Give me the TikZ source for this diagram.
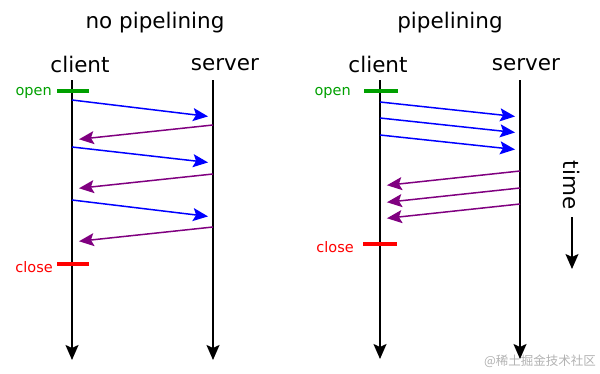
\documentclass[tikz,border=0pt]{standalone}
\usepackage{fontspec}
\setmainfont{DejaVu Sans}
\newfontfamily\cjkfont{Noto Sans CJK SC}
\usepackage{tikz}
\usetikzlibrary{arrows.meta,positioning}
\definecolor{OpenGreen}{RGB}{0,160,0}
\definecolor{ReqBlue}{RGB}{0,0,255}
\definecolor{RespPurple}{RGB}{128,0,128}
\definecolor{CloseRed}{RGB}{255,0,0}

\begin{document}
\begin{tikzpicture} [x=1pt, y=-1pt, >={Stealth[length=15pt,width=13pt,inset=3pt]},
	   every node/.style={font=\fontsize{21.5}{24}\selectfont, inner sep=0pt},
	   timeline/.style = {->, line width=1.8pt, black},
	   request/.style = {->, line width=1.5pt, draw=ReqBlue, shorten >=5pt},
	   response/.style = {->, line width=1.5pt, draw=RespPurple, shorten >=7pt},
	   connbar/.style = {line width=3.5pt},
	   connlabel/.style = {font=\fontsize{14.5}{16}\selectfont, text=#1}]
	\useasboundingbox (0,0) rectangle (600,373);

	%% Titles
	\node [anchor=base] (titleA) at (155,28) {no pipelining};
	\node [anchor=base] (titleB) at (450,28) {pipelining};

	%% Timelines, no pipelining
	\node [anchor=base] (clientA) at (80,72) {client};
	\node [anchor=base] (serverA) at (225,70) {server};
	\coordinate (clientA top) at (72,80);
	\coordinate (clientA bot) at (72,360);
	\coordinate (serverA top) at (213,80);
	\coordinate (serverA bot) at (213,360);
	\draw [timeline] (clientA top) -- (clientA bot);
	\draw [timeline] (serverA top) -- (serverA bot);

	%% Timelines, pipelining
	\node [anchor=base] (clientB) at (378,72) {client};
	\node [anchor=base] (serverB) at (526,70) {server};
	\coordinate (clientB top) at (380,80);
	\coordinate (clientB bot) at (380,359);
	\coordinate (serverB top) at (520,80);
	\coordinate (serverB bot) at (520,359);
	\draw [timeline] (clientB top) -- (clientB bot);
	\draw [timeline] (serverB top) -- (serverB bot);

	%% Open / close marks
	\coordinate (openA w) at (57,91);  \coordinate (openA e) at (89,91);
	\coordinate (closeA w) at (57,264); \coordinate (closeA e) at (89,264);
	\coordinate (openB w) at (364,91); \coordinate (openB e) at (398,91);
	\coordinate (closeB w) at (363,244); \coordinate (closeB e) at (397,244);
	\draw [connbar, OpenGreen] (openA w) -- (openA e);
	\draw [connbar, CloseRed] (closeA w) -- (closeA e);
	\draw [connbar, OpenGreen] (openB w) -- (openB e);
	\draw [connbar, CloseRed] (closeB w) -- (closeB e);
	\node [connlabel=OpenGreen, left=5pt of openA w, yshift=-2pt] (openA) {open};
	\node [connlabel=CloseRed, left=4pt of closeA w, yshift=-3pt] (closeA) {close};
	\node [connlabel=OpenGreen, left=13pt of openB w, yshift=-2pt] (openB) {open};
	\node [connlabel=CloseRed, left=9pt of closeB w, yshift=-3pt] (closeB) {close};

	%% Messages, no pipelining
	\foreach \i/\a/\b/\c/\d in {1/100/117/125/140, 2/147/163/174/189, 3/200/217/227/242} {
		\coordinate (reqA\i s) at (72,\a);   \coordinate (reqA\i e) at (213,\b);
		\coordinate (resA\i s) at (213,\c);  \coordinate (resA\i e) at (72,\d);
		\draw [request] (reqA\i s) -- (reqA\i e);
		\draw [response] (resA\i s) -- (resA\i e);
	}

	%% Messages, pipelining
	\foreach \i/\a/\b/\c/\d in {1/102/117/171/186, 2/118/133/188/203, 3/135/150/204/219} {
		\coordinate (reqB\i s) at (380,\a);  \coordinate (reqB\i e) at (520,\b);
		\coordinate (resB\i s) at (520,\c);  \coordinate (resB\i e) at (380,\d);
		\draw [request] (reqB\i s) -- (reqB\i e);
		\draw [response] (resB\i s) -- (resB\i e);
	}

	%% Time axis
	\node [rotate=-90] (time) at (572,185) {time};
	\coordinate (time end) at (572,269);
	\draw [->, line width=1.5pt] (time.east) ++(0,8) coordinate (time start) -- (time end);

	%% Watermark
	\node [font=\cjkfont\fontsize{12.5}{14}\selectfont, text=black!30] (wm) at (540,361) {@稀土掘金技术社区};
\end{tikzpicture}
\end{document}
